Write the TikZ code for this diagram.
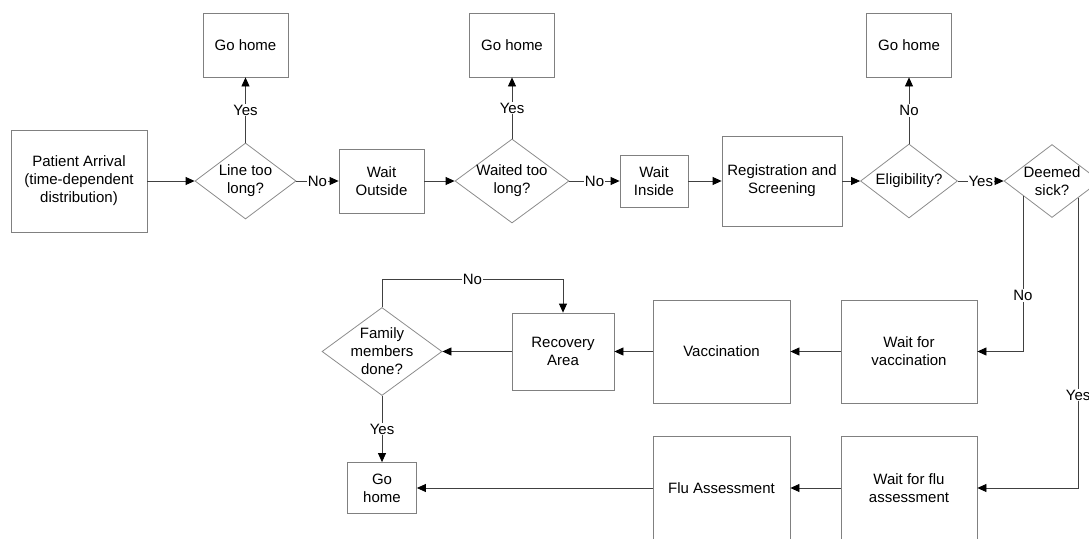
\documentclass[tikz,border=0pt]{standalone}
\usepackage{fontspec}
\setmainfont{Liberation Sans}
\usepackage{tikz}
\usetikzlibrary{shapes.geometric, arrows.meta, positioning, calc}

\tikzset{
    box/.style={draw=black!50, line width=0.8pt, align=center, inner sep=2pt},
    decision/.style={diamond, draw=black!45, line width=0.8pt, align=center, inner sep=-4pt},
    flow/.style={draw=black!75, line width=0.8pt, -{Triangle[length=9pt, width=8pt, color=black]}},
    lbl/.style={fill=white, inner sep=1pt}
}

\begin{document}
\begin{tikzpicture}[x=1pt, y=-1pt, font=\fontsize{15}{18}\selectfont]
    \clip (0, 0) rectangle (1089, 538);

    % top row
    \node[box, minimum width=136pt, minimum height=102pt] (arrival) at (79, 181)
        {Patient Arrival\\(time-dependent\\distribution)};
    \node[decision, aspect=1.33, minimum width=101pt, minimum height=76pt] (toolong) at (245.5, 181) {Line too\\long?};
    \node[box, minimum width=85pt, minimum height=64pt] (home1) at (245.5, 45) {Go home};
    \node[box, minimum width=85pt, minimum height=64pt] (outside) at (381.5, 181) {Wait\\Outside};
    \node[decision, aspect=1.36, minimum width=114pt, minimum height=84pt] (waited) at (512, 181) {Waited too\\long?};
    \node[box, minimum width=85pt, minimum height=64pt] (home2) at (512, 45) {Go home};
    \node[box, minimum width=68pt, minimum height=52pt] (inside) at (654, 181) {Wait\\Inside};
    \node[box, minimum width=120pt, minimum height=90pt] (reg) at (782, 181) {Registration and\\Screening};
    \node[decision, aspect=1.31, minimum width=97pt, minimum height=74pt] (elig) at (909, 181) {Eligibility?};
    \node[box, minimum width=85pt, minimum height=64pt] (home3) at (909, 45) {Go home};
    \node[decision, aspect=1.32, minimum width=96pt, minimum height=73pt] (sick) at (1052, 181) {Deemed\\sick?};

    % vaccination row
    \node[box, minimum width=136pt, minimum height=103pt] (waitvac) at (909, 351.5) {Wait for\\vaccination};
    \node[box, minimum width=137pt, minimum height=103pt] (vacc) at (721.5, 351.5) {Vaccination};
    \node[box, minimum width=102pt, minimum height=77pt] (recov) at (563, 351.5) {Recovery\\Area};
    \node[decision, aspect=1.36, minimum width=120pt, minimum height=88pt] (family) at (382, 351.5) {Family\\members\\done?};
    \node[box, minimum width=69pt, minimum height=51pt] (home4) at (382, 488) {Go\\home};

    % flu row
    \node[box, minimum width=136pt, minimum height=103pt] (waitflu) at (909, 488) {Wait for flu\\assessment};
    \node[box, minimum width=137pt, minimum height=103pt] (flu) at (721.5, 488) {Flu Assessment};

    \coordinate (loop) at (382, 279);
    \coordinate (sickno) at ($(sick.west)!0.4!(sick.south)$);
    \coordinate (sickyes) at ($(sick.south)!0.54!(sick.east)$);

    \draw (arrival) edge[flow] (toolong)
          (toolong) edge[flow] node[lbl] {No} (outside)
          (toolong) edge[flow] node[lbl] {Yes} (home1)
          (outside) edge[flow] (waited)
          (waited) edge[flow] node[lbl] {No} (inside)
          (waited) edge[flow] node[lbl] {Yes} (home2)
          (inside) edge[flow] (reg)
          (reg) edge[flow] (elig)
          (elig) edge[flow] node[lbl] {No} (home3)
          (elig) edge[flow] node[lbl] {Yes} (sick)
          (waitvac) edge[flow] (vacc)
          (vacc) edge[flow] (recov)
          (recov) edge[flow] (family)
          (family) edge[flow] node[lbl] {Yes} (home4)
          (waitflu) edge[flow] (flu)
          (flu) edge[flow] (home4)
          ;

    \draw[flow] (sickno) |- node[lbl, pos=0.32] {No} (waitvac);
    \draw[flow] (sickyes) |- node[lbl, pos=0.34] {Yes} (waitflu);
    \draw[flow] (family.north) -- (loop) -- node[lbl] {No} (loop -| recov.north) -- (recov.north);
\end{tikzpicture}
\end{document}
